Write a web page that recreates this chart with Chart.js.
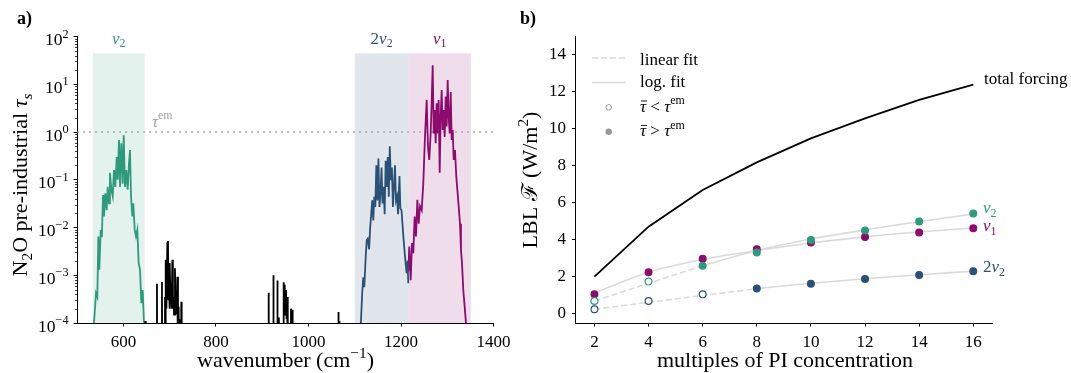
<!DOCTYPE html>
<html>
<head>
<meta charset="utf-8">
<script src="https://cdn.jsdelivr.net/npm/chart.js@4.4.1/dist/chart.umd.min.js"></script>
<style>
  html, body { margin: 0; padding: 0; background: #fff; }
  #wrap { position: relative; width: 1071px; height: 373px; }
  #wrap canvas { position: absolute; left: 0; top: 0; }
</style>
</head>
<body>
<div id="wrap">
  <canvas id="spec" width="1071" height="373"></canvas>
  <canvas id="forc" width="1071" height="373"></canvas>
</div>
<script>
// ---- panel a: N2O optical depth spectrum ----
const specXTicks = [600, 800, 1000, 1200, 1400];
const specYTicks = [1e-4, 1e-3, 1e-2, 1e-1, 1, 10, 100];
const bandStart = [534, 1100, 1216];
const bandEnd = [646, 1216, 1351];
const bandTop = 44.5;
const tauEm = 1;

const nu2Wn = [534.5, 536.5, 540.8, 543.7, 545.9, 548, 551, 553.5, 556, 558.1, 561, 564, 566.1, 569, 571, 574, 577,
  579.7, 582.6, 585.6, 587.7, 590.5, 592.7, 595.5, 598.5, 600.7, 603.5, 606.4, 609.3, 612.1, 614.3, 616.5, 619.3,
  621.5, 624.5, 627.3, 630.2, 633, 636, 638.8, 641.7, 644.6, 645.5];
const nu2Tau = [1e-5, 1e-4, 4.2e-4, 3.5e-4, 6.5e-3, 1.3e-3, 8.9e-3, 6.3e-3, 0.048, 0.017, 0.052, 0.023, 0.071, 0.032,
  0.14, 0.062, 0.045, 0.16, 0.071, 0.30, 0.10, 0.68, 0.071, 0.58, 0.083, 0.85, 0.071, 0.16, 0.062, 0.22, 0.42, 0.045,
  0.017, 0.032, 8.9e-3, 6.5e-3, 8.9e-3, 1.8e-3, 1.3e-3, 2.6e-4, 4.9e-4, 1e-4, 1e-5];

const twoNu2Wn = [1112.8, 1113.2, 1116, 1118.4, 1120.6, 1123.6, 1125.8, 1128, 1131, 1133.3, 1135.5, 1137.7, 1140,
  1142.2, 1144.4, 1146.6, 1148.9, 1151.1, 1153.4, 1155.6, 1157.8, 1160, 1162.4, 1164.6, 1166.8, 1169, 1171.3, 1173.5,
  1175.7, 1178, 1180.2, 1182.4, 1184.6, 1186.9, 1189, 1191.3, 1193.6, 1196.6, 1198.5, 1201, 1205, 1208.5, 1212, 1214,
  1215.7];
const twoNu2Tau = [1e-5, 1e-4, 4.1e-4, 9.1e-4, 5.6e-4, 2.4e-3, 5.4e-3, 5.8e-3, 3.5e-3, 0.010, 0.019, 0.037, 0.014,
  0.044, 0.027, 0.20, 0.037, 0.28, 0.027, 0.051, 0.18, 0.032, 0.071, 0.019, 0.25, 0.071, 0.30, 0.044, 0.50, 0.098,
  0.18, 0.027, 0.071, 0.20, 0.037, 0.045, 0.019, 0.12, 0.025, 0.023, 6.5e-3, 2.5e-3, 1.1e-3, 2.0e-3, 6.8e-4];

const nu1Wn = [1215.7, 1217.8, 1220.8, 1223.7, 1226.5, 1229.4, 1232.3, 1235.2, 1238.1, 1241, 1244.6, 1248.1, 1251.7,
  1255.4, 1258.2, 1261, 1264, 1266.1, 1268.4, 1270.5, 1272.7, 1274.8, 1277, 1279.2, 1281.3, 1283.5, 1285.6, 1287.8,
  1290, 1292.1, 1294.3, 1296.5, 1298.6, 1300.8, 1302.9, 1305.1, 1307.3, 1309.4, 1311.6, 1313.8, 1316.6, 1319.4,
  1322.3, 1325.2, 1327.4, 1329.5, 1331.7, 1334.5, 1337.5, 1340.3, 1341];
const nu1Tau = [1.2e-3, 4.0e-3, 7.9e-4, 4.7e-3, 2.9e-3, 0.017, 6.5e-3, 0.038, 0.012, 0.028, 0.023, 0.085, 0.79,
  4.7, 0.49, 0.26, 0.93, 4.0, 25, 0.93, 2.9, 0.58, 4.0, 0.93, 4.7, 0.14, 2.1, 7.6, 1.1, 2.9, 0.79, 5.5, 1.3, 12.3,
  2.1, 0.93, 6.9, 0.68, 1.1, 0.26, 0.42, 0.115, 0.052, 0.023, 0.012, 3.4e-3, 1.8e-3, 4.9e-4, 2.2e-4, 1e-4, 1e-5];

const otherWn = [646.5, 647.4, 648.3, 672, 672.6, 673.4, 682.8, 683.4, 684.2, 689.5, 690, 690.8, 692.1, 693, 695,
  696.4, 697.3, 698.6, 699.5, 700.7, 702, 703.6, 704.6, 705.8, 707, 708.7, 709.5, 711.5, 712.8, 714.4, 715.3, 716.6,
  718, 719.5, 720.3, 722.3, 723, 725.2, 726,
  913.5, 914, 914.8, 923.4, 924, 924.8, 932, 932.6, 933.5, 936, 937, 945.8, 946.4, 947.5, 948.6, 949.8, 951.4, 952.6,
  954.2, 955.2, 961.7, 962.2, 963.5, 965, 965.8,
  1064, 1064.5, 1065.3, 1066.3, 1067];
const otherTau = [1e-7, 1.1e-4, 1e-7, 1e-7, 6.6e-4, 1e-7, 1e-7, 7.2e-4, 1e-7, 1e-7, 3.5e-4, 1e-5, 2.1e-3, 2e-4,
  4.7e-3, 5.2e-3, 3e-4, 4.9e-4, 2e-4, 1.8e-3, 2.5e-4, 6.8e-4, 2e-4, 2.1e-3, 2e-4, 3.5e-4, 1.5e-4, 1.4e-3, 1.5e-4,
  4.2e-4, 1.5e-4, 9.3e-4, 1e-5, 2.2e-4, 1e-7, 1.2e-4, 1e-7, 2.8e-4, 1e-7,
  1e-7, 4.3e-4, 1e-7, 1e-7, 1e-3, 1e-7, 1e-7, 7.8e-4, 1e-5, 1.3e-4, 1e-7, 1e-7, 7.1e-4, 1.5e-4, 6.3e-4, 1.5e-4,
  4.9e-4, 1.2e-4, 3.5e-4, 1e-7, 1e-7, 2e-4, 1e-5, 1.9e-4, 1e-7,
  1e-7, 1.7e-4, 1e-5, 1.1e-4, 1e-7];

// ---- panel b: forcing vs concentration multiple ----
const multiples = [2, 4, 6, 8, 10, 12, 14, 16];
const forcXTicks = [2, 4, 6, 8, 10, 12, 14, 16];
const forcYTicks = [0, 2, 4, 6, 8, 10, 12, 14];
const totalForcing = [2.01, 4.71, 6.70, 8.19, 9.49, 10.57, 11.57, 12.40];
const fNu2 = [0.69, 1.74, 2.60, 3.31, 3.99, 4.50, 4.99, 5.42];
const fNu1 = [1.05, 2.24, 2.98, 3.49, 3.86, 4.15, 4.40, 4.62];
const f2Nu2 = [0.24, 0.69, 1.05, 1.36, 1.63, 1.88, 2.10, 2.30];
const nu2FirstFilled = 2;
const nu1FirstFilled = 0;
const twoNu2FirstFilled = 3;
const nu2LinFit = [0.69, 1.65, 2.60];
const nu2LogFit = [2.60, 3.42, 4.04, 4.54, 4.98, 5.40];
const nu1LogFit = [1.12, 2.25, 2.93, 3.42, 3.83, 4.16, 4.42, 4.64];
const twoNu2LinFit = [0.24, 0.62, 0.99, 1.36];
const twoNu2LogFit = [1.36, 1.65, 1.89, 2.11, 2.30];

const SERIF = "'Liberation Serif', 'DejaVu Serif', 'Times New Roman', serif";
const C_NU2 = '#2e9a7b', C_2NU2 = '#2c5177', C_NU1 = '#8b0b6e';
const BAND_FILL = ['rgba(46,154,123,0.13)', 'rgba(44,81,119,0.14)', 'rgba(139,11,110,0.14)'];
const FIT_GREY = '#dadada';

Chart.defaults.color = '#000';
Chart.defaults.font.family = SERIF;

function pairs(xs, ys) {
  return xs.map((v, i) => ({ x: v, y: ys[i] }));
}

// text with italic / sub / sup / overbar pieces, y is the baseline
function richText(ctx, parts, x, y, size, color, align, rot) {
  ctx.save();
  ctx.translate(x, y);
  if (rot) ctx.rotate(rot);
  ctx.fillStyle = color;
  ctx.strokeStyle = color;
  ctx.textBaseline = 'alphabetic';
  ctx.textAlign = 'left';
  const items = parts.map(p => {
    const st = (p[1] || '').split(' ');
    const small = st.includes('sub') || st.includes('sup');
    const fs = small ? size * 0.7 : size;
    const font = (st.includes('i') ? 'italic ' : '') + (st.includes('b') ? 'bold ' : '') + fs + 'px ' + SERIF;
    ctx.font = font;
    return {
      t: p[0], font, fs, w: ctx.measureText(p[0]).width,
      dy: st.includes('sub') ? size * 0.22 : st.includes('sup') ? -size * 0.42 : 0,
      bar: st.includes('bar')
    };
  });
  const total = items.reduce((s, it) => s + it.w, 0);
  let cx = align === 'center' ? -total / 2 : align === 'right' ? -total : 0;
  items.forEach(it => {
    ctx.font = it.font;
    ctx.fillText(it.t, cx, it.dy);
    if (it.bar) {
      ctx.lineWidth = 0.9;
      ctx.beginPath();
      ctx.moveTo(cx + 1, it.dy - it.fs * 0.62);
      ctx.lineTo(cx + it.w + 1, it.dy - it.fs * 0.62);
      ctx.stroke();
    }
    cx += it.w;
  });
  ctx.restore();
}

const axisCommon = {
  grid: { display: true, drawOnChartArea: false, drawTicks: true, tickLength: 3.5, tickColor: '#000', tickWidth: 1 },
  border: { display: true, color: '#000', width: 1 },
};

const specPlugin = {
  id: 'specDecor',
  beforeDatasetsDraw(chart) {
    const { ctx, chartArea: a, scales: { x, y } } = chart;
    ctx.save();
    ctx.beginPath();
    ctx.rect(a.left, a.top, a.width, a.height);
    ctx.clip();
    const yTop = y.getPixelForValue(bandTop), yBot = y.getPixelForValue(1e-4);
    bandStart.forEach((b, i) => {
      const x0 = x.getPixelForValue(b), x1 = x.getPixelForValue(bandEnd[i]);
      ctx.fillStyle = BAND_FILL[i];
      ctx.fillRect(x0, yTop, x1 - x0, yBot - yTop);
    });
    ctx.restore();
  },
  afterDraw(chart) {
    const { ctx, chartArea: a, scales: { x, y } } = chart;
    // minor log ticks
    ctx.save();
    ctx.strokeStyle = '#000';
    ctx.lineWidth = 0.8;
    for (let d = -4; d < 2; d++) {
      for (let k = 2; k < 10; k++) {
        const py = Math.round(y.getPixelForValue(k * Math.pow(10, d))) + 0.5;
        ctx.beginPath();
        ctx.moveTo(a.left - 2, py);
        ctx.lineTo(a.left, py);
        ctx.stroke();
      }
    }
    ctx.restore();
    // decade labels
    specYTicks.forEach(v => {
      const e = Math.round(Math.log10(v));
      const py = y.getPixelForValue(v);
      richText(ctx, [['10', ''], [e < 0 ? '\u2212' + (-e) : String(e), 'sup']], a.left - 8.5, py + 8.5, 17.5, '#000', 'right');
    });
    // band labels
    const labs = [[['ν', 'i'], ['2', 'sub']], [['2', ''], ['ν', 'i'], ['2', 'sub']], [['ν', 'i'], ['1', 'sub']]];
    const cols = [C_NU2, C_2NU2, C_NU1];
    bandStart.forEach((b, i) => {
      const cx = x.getPixelForValue((b + bandEnd[i]) / 2);
      richText(ctx, labs[i], cx, 43.5, 17, cols[i], 'center');
    });
    // tau_em label
    richText(ctx, [['τ', 'i'], ['em', 'sup']], 152, 126.5, 17, '#a0a0a0', 'left');
    // axis titles
    richText(ctx, [['wavenumber (cm', ''], ['\u22121', 'sup'], [')', '']], 285.5, 367, 22, '#000', 'center');
    richText(ctx, [['N', ''], ['2', 'sub'], ['O pre-industrial ', ''], ['τ', 'i'], ['s', 'i sub']], 27, 185, 22, '#000', 'center', -Math.PI / 2);
    richText(ctx, [['a)', 'b']], 17, 24, 18, '#000', 'left');
  }
};

new Chart(document.getElementById('spec'), {
  type: 'line',
  data: {
    datasets: [
      { data: pairs(otherWn, otherTau), borderColor: '#000' },
      { data: pairs(nu2Wn, nu2Tau), borderColor: C_NU2 },
      { data: pairs(twoNu2Wn, twoNu2Tau), borderColor: C_2NU2 },
      { data: pairs(nu1Wn, nu1Tau), borderColor: C_NU1 },
      { data: [{ x: 500, y: tauEm }, { x: 1400, y: tauEm }], borderColor: '#a6a6a6', borderDash: [2, 4], borderWidth: 1.5 }
    ]
  },
  options: {
    responsive: false,
    animation: false,
    events: [],
    devicePixelRatio: 1,
    layout: { padding: { left: 0, top: 36.5, right: 577.4, bottom: 0 } },
    elements: { point: { radius: 0 }, line: { borderWidth: 1.8, tension: 0, fill: false } },
    plugins: { legend: { display: false }, tooltip: { enabled: false } },
    scales: {
      x: {
        type: 'linear', min: 500, max: 1400, ...axisCommon,
        afterBuildTicks: s => { s.ticks = specXTicks.map(v => ({ value: v })); },
        afterFit: s => { s.height = 50; },
        ticks: { font: { size: 17 }, color: '#000', padding: 6, maxRotation: 0, autoSkip: false, callback: v => String(v) }
      },
      y: {
        type: 'logarithmic', min: 1e-4, max: 1e2, ...axisCommon,
        afterBuildTicks: s => { s.ticks = specYTicks.map(v => ({ value: v, major: true })); },
        afterFit: s => { s.width = 77.1; },
        ticks: { callback: () => '', autoSkip: false }
      }
    }
  },
  plugins: [specPlugin]
});

// ---- panel b ----
const forcPlugin = {
  id: 'forcDecor',
  afterDraw(chart) {
    const { ctx } = chart;
    ctx.save();
    ctx.strokeStyle = FIT_GREY;
    ctx.lineWidth = 1.6;
    ctx.setLineDash([6, 3]);
    ctx.beginPath(); ctx.moveTo(592, 58); ctx.lineTo(626, 58); ctx.stroke();
    ctx.setLineDash([]);
    ctx.beginPath(); ctx.moveTo(592, 82.5); ctx.lineTo(626, 82.5); ctx.stroke();
    ctx.strokeStyle = '#999'; ctx.fillStyle = '#fff'; ctx.lineWidth = 1;
    ctx.beginPath(); ctx.arc(608.7, 107.3, 2.8, 0, Math.PI * 2); ctx.fill(); ctx.stroke();
    ctx.fillStyle = '#999';
    ctx.beginPath(); ctx.arc(608.7, 131.7, 3.2, 0, Math.PI * 2); ctx.fill();
    ctx.restore();
    richText(ctx, [['linear fit', '']], 640, 65, 17, '#000', 'left');
    richText(ctx, [['log. fit', '']], 640, 87, 17, '#000', 'left');
    richText(ctx, [['τ', 'i bar'], [' < ', ''], ['τ', 'i'], ['em', 'sup']], 640, 111.5, 17, '#000', 'left');
    richText(ctx, [['τ', 'i bar'], [' > ', ''], ['τ', 'i'], ['em', 'sup']], 640, 136, 17, '#000', 'left');
    richText(ctx, [['total forcing', '']], 984, 84, 17, '#000', 'left');
    richText(ctx, [['ν', 'i'], ['2', 'sub']], 983, 213, 17, C_NU2, 'left');
    richText(ctx, [['ν', 'i'], ['1', 'sub']], 983, 231, 17, C_NU1, 'left');
    richText(ctx, [['2', ''], ['ν', 'i'], ['2', 'sub']], 983, 272, 17, C_2NU2, 'left');
    richText(ctx, [['multiples of PI concentration', '']], 785, 367, 22, '#000', 'center');
    richText(ctx, [['LBL ', ''], ['ℱ', ''], [' (W/m', ''], ['2', 'sup'], [')', '']], 537, 180, 22, '#000', 'center', -Math.PI / 2);
    richText(ctx, [['b)', 'b']], 520, 24, 18, '#000', 'left');
  }
};

function markerSet(vals, color, firstFilled) {
  return {
    data: pairs(multiples, vals), showLine: false, order: 0,
    pointRadius: 3.4, pointBorderWidth: 1.2, pointBorderColor: color,
    pointBackgroundColor: c => (c.dataIndex < firstFilled ? '#fff' : color)
  };
}
function fitSet(xs, vals, dashed) {
  return {
    data: pairs(xs, vals), borderColor: FIT_GREY, borderWidth: 1.6, order: 2,
    borderDash: dashed ? [6, 3] : [], cubicInterpolationMode: dashed ? 'default' : 'monotone',
    tension: dashed ? 0 : 0.4
  };
}

new Chart(document.getElementById('forc'), {
  type: 'line',
  data: {
    datasets: [
      markerSet(fNu2, C_NU2, nu2FirstFilled),
      markerSet(fNu1, C_NU1, nu1FirstFilled),
      markerSet(f2Nu2, C_2NU2, twoNu2FirstFilled),
      { data: pairs(multiples, totalForcing), borderColor: '#000', borderWidth: 1.8, order: 1 },
      fitSet(multiples.slice(0, 3), nu2LinFit, true),
      fitSet(multiples.slice(2), nu2LogFit, false),
      fitSet(multiples, nu1LogFit, false),
      fitSet(multiples.slice(0, 4), twoNu2LinFit, true),
      fitSet(multiples.slice(3), twoNu2LogFit, false)
    ]
  },
  options: {
    responsive: false,
    animation: false,
    events: [],
    devicePixelRatio: 1,
    layout: { padding: { left: 525.5, top: 36.5, right: 78.8, bottom: 0 } },
    elements: { point: { radius: 0 }, line: { tension: 0, fill: false } },
    plugins: { legend: { display: false }, tooltip: { enabled: false } },
    scales: {
      x: {
        type: 'linear', min: 1.3, max: 16.7, ...axisCommon,
        afterBuildTicks: s => { s.ticks = forcXTicks.map(v => ({ value: v })); },
        afterFit: s => { s.height = 50; },
        ticks: { font: { size: 17 }, color: '#000', padding: 6, maxRotation: 0, autoSkip: false }
      },
      y: {
        type: 'linear', min: -0.5, max: 15, ...axisCommon,
        afterBuildTicks: s => { s.ticks = forcYTicks.map(v => ({ value: v })); },
        afterFit: s => { s.width = 50; },
        ticks: { font: { size: 17 }, color: '#000', padding: 6, autoSkip: false }
      }
    }
  },
  plugins: [forcPlugin]
});
</script>
</body>
</html>
